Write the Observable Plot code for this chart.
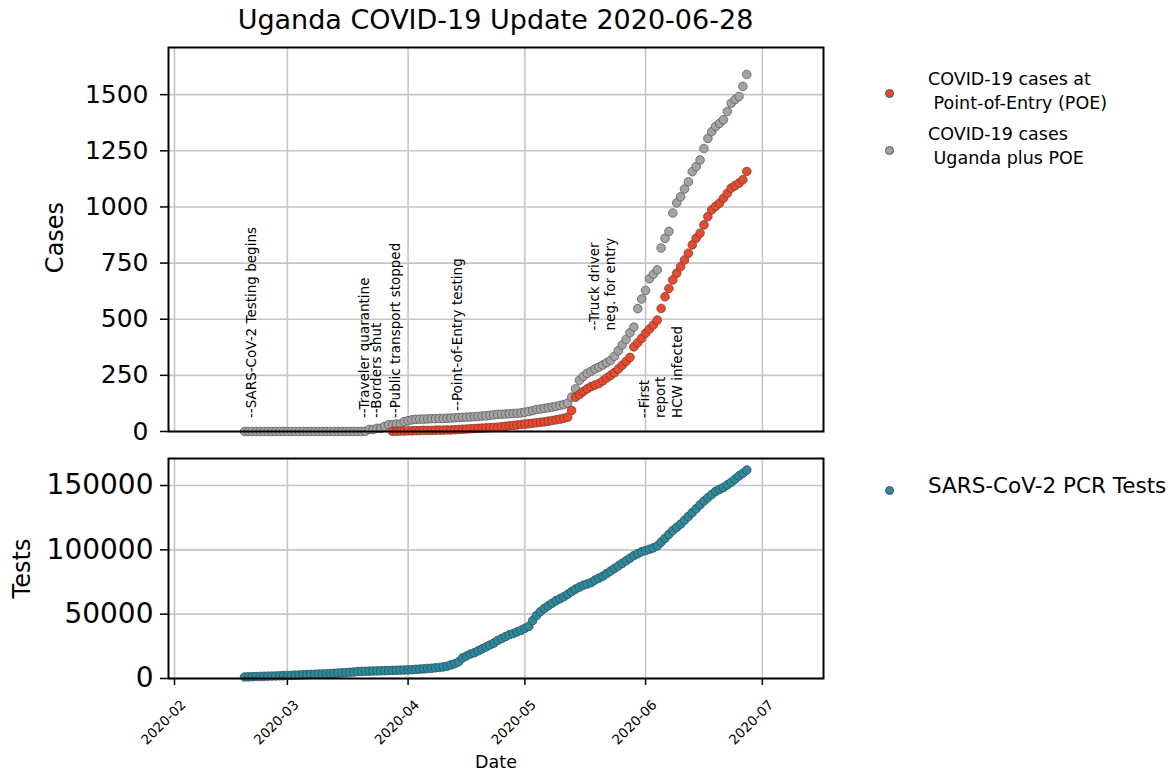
<!DOCTYPE html>
<html><head><meta charset="utf-8">
<script src="https://cdn.jsdelivr.net/npm/d3@7"></script>
<script src="https://cdn.jsdelivr.net/npm/@observablehq/plot@0.6"></script>
<style>
body{margin:0;background:#fff;font-family:"DejaVu Sans",sans-serif;}
#wrap{position:relative;width:1175px;height:774px;overflow:hidden;background:#fff;}
#title{position:absolute;left:118px;width:755px;top:4px;text-align:center;font-size:27px;color:#000;white-space:nowrap;}
.p{position:absolute;left:0;}
.leg{position:absolute;left:928px;font-size:17.5px;line-height:24px;white-space:pre;color:#000;}
.leg2{position:absolute;left:928px;font-size:21.5px;line-height:26px;white-space:pre;color:#000;}
.dot{position:absolute;width:9px;height:9px;border-radius:50%;box-sizing:border-box;border:1px solid #555;}
</style></head><body>
<div id="wrap">
  <div id="title"></div>
  <div id="top" class="p" style="top:37px"></div>
  <div id="bottom" class="p" style="top:448px"></div>
  <div class="dot" style="left:885px;top:89px;background:#ea4a2c"></div>
  <div class="leg" style="top:67px">COVID-19 cases at
 Point-of-Entry (POE)</div>
  <div class="dot" style="left:885px;top:146px;background:#a3a3a3"></div>
  <div class="leg" style="top:122px">COVID-19 cases
 Uganda plus POE</div>
  <div class="dot" style="left:885px;top:486px;background:#2a8a9e"></div>
  <div class="leg2" style="top:473px">SARS-CoV-2 PCR Tests</div>
</div>
<script>
const title = "Uganda COVID-19 Update 2020-06-28";

// Daily series, Uganda plus POE cumulative cases, from 2020-02-19 to 2020-06-27
const allStart = "2020-02-19";
const allCases = [
  // Feb 19-29
  0,0,0,0,0,0,0,0,0,0,0,
  // Mar
  0,0,0,0,0,0,0,0,0,0, 0,0,0,0,0,0,0,0,0,0, 1,9,9,14,14,23,30,30,33,33, 44,
  // Apr
  48,52,54,55,55,56,57,57,58,58, 59,60,61,62,63,64,65,66,67,69, 70,72,74,76,77,78,79,80,81,83,
  // May
  86,89,93,98,100,103,106,109,112,116, 120,126,153,190,228,245,259,268,278,287, 296,306,317,335,360,385,410,440,465,547, 590,
  // Jun 1-27
  628,680,700,720,817,860,891,973,1018,1045, 1080,1112,1157,1180,1209,1260,1305,1335,1358,1372, 1388,1425,1462,1478,1492,1537,1590
];

// Point-of-Entry cumulative cases, from 2020-03-28 to 2020-06-27
const poeStart = "2020-03-28";
const poeCases = [
  1,1,2,2,
  3,3,4,4,5,5,5,6,6,6, 7,7,8,9,10,11,12,13,14,15, 16,17,18,19,21,23,25,27,29,31,
  33,35,37,39,41,43,46,49,52,55, 59,64,94,153,165,178,190,200,207,213, 225,238,250,262,278,295,312,330,377,395, 415,
  438,456,474,496,548,600,637,675,705,734, 764,794,831,861,883,920,957,987,1003,1017, 1039,1061,1084,1095,1106,1121,1158
];

// SARS-CoV-2 PCR tests cumulative, from 2020-02-19 to 2020-06-27
const testStart = "2020-02-19";
const tests = [
  1200,1300,1400,1500,1600,1700,1800,1900,2000,2100,2200,
  2300,2450,2600,2700,2850,3000,3150,3300,3400,3550, 3700,3850,4000,4200,4400,4600,4800,5000,5400,5500, 5600,5700,5800,5900,6000,6100,6200,6300,6400,6500, 6600,
  6700,6900,7100,7300,7500,7800,8000,8300,8600,9000, 9500,10600,11500,13000,16000,17500,19000,20000,21500,23000, 24500,26000,27500,29500,31000,32500,34000,35000,36200,37500,
  39000,40500,45000,49000,52000,54500,56500,58500,60500,62000, 63500,65500,67500,69500,71000,72500,73500,74500,76500,78000, 79500,81500,83500,85500,87500,89500,91500,93500,95500,97000, 98500,
  99500,100500,101500,103000,106000,109000,112000,115000,117500,120000, 123000,126000,129000,132000,135000,138000,140500,143000,145500,147000, 148500,150500,152500,155000,157500,159500,162000
];

// Event annotations: date, y position (cases), text
const eventDates = ["2020-02-19","2020-03-19","2020-03-22","2020-03-27","2020-04-12","2020-05-17","2020-05-30"];
const eventY = [60,60,60,60,92,450,60];
const eventLabels = [
  "--SARS-CoV-2 Testing begins",
  "--Traveler quarantine",
  "--Borders shut",
  "--Public transport stopped",
  "--Point-of-Entry testing",
  "--Truck driver\nneg. for entry",
  "--First\nreport\nHCW infected"
];

const caseTicks = [0,250,500,750,1000,1250,1500];
const testTicks = [0,50000,100000,150000];
const monthTickLabels = ["2020-02","2020-03","2020-04","2020-05","2020-06","2020-07"];

const parse = d3.utcParse("%Y-%m-%d");
const parseM = d3.utcParse("%Y-%m");
function series(start, values) {
  const s = parse(start);
  return values.map((v, i) => ({date: d3.utcDay.offset(s, i), value: v}));
}
const allData = series(allStart, allCases);
const poeData = series(poeStart, poeCases);
const testData = series(testStart, tests);
const events = eventDates.map((d, i) => ({date: parse(d), y: eventY[i], label: eventLabels[i]}));
const monthTicks = monthTickLabels.map(parseM);
const xDomain = [new Date(Date.UTC(2020,0,30,11)), new Date(Date.UTC(2020,6,16,17))];

document.getElementById("title").textContent = title;

const gridStyle = {stroke: "#c6c6c6", strokeOpacity: 1, strokeWidth: 1.6};
const font = "DejaVu Sans";

const topPlot = Plot.plot({
  width: 830, height: 399,
  marginLeft: 168, marginRight: 7, marginTop: 10, marginBottom: 5,
  style: {fontFamily: font, color: "#000", background: "transparent", overflow: "visible"},
  x: {type: "utc", domain: xDomain, axis: null},
  y: {domain: [0, 1710], axis: null},
  marks: [
    Plot.gridX(monthTicks, gridStyle),
    Plot.gridY(caseTicks, gridStyle),
    Plot.axisY(caseTicks, {tickSize: 8, tickPadding: 12, fontSize: 25, tickFormat: d => String(d), label: null, strokeWidth: 1.5}),
    Plot.dot(allData, {x: "date", y: "value", r: 4.3, fill: "#a3a3a3", stroke: "#5c5c5c", strokeWidth: 0.8}),
    Plot.dot(poeData, {x: "date", y: "value", r: 4.3, fill: "#ea4a2c", stroke: "#7a3a30", strokeWidth: 0.8}),
    Plot.text(events, {x: "date", y: "y", text: "label", rotate: -90, textAnchor: "start", lineAnchor: "top", fontSize: 13.5, lineHeight: 1.2, fill: "#000"}),
    Plot.text(["Cases"], {frameAnchor: "left", textAnchor: "middle", dx: -113, dy: -2, rotate: -90, fontSize: 24, text: d => d, fill: "#000"}),
    Plot.frame({stroke: "#000", strokeWidth: 2})
  ]
});
document.getElementById("top").appendChild(topPlot);

const bottomPlot = Plot.plot({
  width: 830, height: 326,
  marginLeft: 168, marginRight: 7, marginTop: 10, marginBottom: 96,
  style: {fontFamily: font, color: "#000", background: "transparent", overflow: "visible"},
  x: {type: "utc", domain: xDomain, axis: null},
  y: {domain: [0, 171000], axis: null},
  marks: [
    Plot.gridX(monthTicks, gridStyle),
    Plot.gridY(testTicks, gridStyle),
    Plot.axisY(testTicks, {tickSize: 8, tickPadding: 7, fontSize: 28, tickFormat: d3.format("d"), label: null, strokeWidth: 1.5}),
    Plot.axisX(monthTicks, {tickSize: 7, tickFormat: () => "", label: null, strokeWidth: 1.5}),
    Plot.axisX(monthTicks, {tickSize: 0, tickPadding: 24, tickRotate: -45, fontSize: 13.5, dx: 9, tickFormat: d3.utcFormat("%Y-%m"), label: null}),
    Plot.dot(testData, {x: "date", y: "value", r: 4.3, fill: "#2a8a9e", stroke: "#2f4f57", strokeWidth: 0.8}),
    Plot.text(["Tests"], {frameAnchor: "left", textAnchor: "middle", dx: -146, rotate: -90, fontSize: 24, text: d => d, fill: "#000"}),
    Plot.text(["Date"], {frameAnchor: "bottom", dy: 89, fontSize: 17.5, text: d => d, fill: "#000"}),
    Plot.frame({stroke: "#000", strokeWidth: 2})
  ]
});
document.getElementById("bottom").appendChild(bottomPlot);
</script>
</body></html>
